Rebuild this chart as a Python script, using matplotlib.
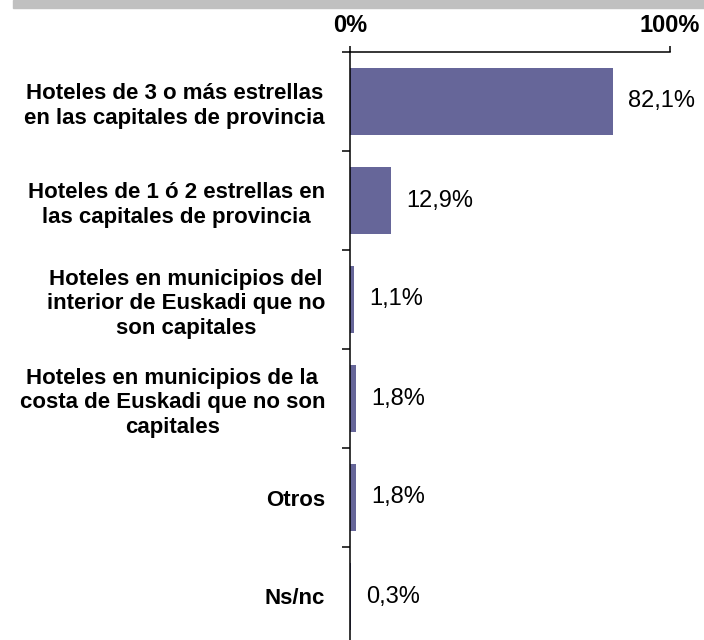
import matplotlib
matplotlib.use('Agg')
import matplotlib.pyplot as plt
from matplotlib.patches import Rectangle
from matplotlib.ticker import FixedLocator

plt.rcParams['font.family'] = ['Liberation Sans', 'DejaVu Sans']

# data
categories = [
    'Hoteles de 3 o más estrellas\nen las capitales de provincia',
    'Hoteles de 1 ó 2 estrellas en\nlas capitales de provincia',
    'Hoteles en municipios del\ninterior de Euskadi que no\nson capitales',
    'Hoteles en municipios de la\ncosta de Euskadi que no son\ncapitales',
    'Otros',
    'Ns/nc',
]
values = [82.1, 12.9, 1.1, 1.8, 1.8, 0.3]
xtick_vals = [0, 100]
xtick_labels = ['0%', '100%']

W, H = 704, 640
fig = plt.figure(figsize=(W / 100, H / 100), dpi=100)

# grey band at the top
fig.patches.append(Rectangle((13 / W, 1 - 8 / H), 1 - 13 / W, 8 / H,
                             transform=fig.transFigure, color='#c0c0c0', zorder=0))

ax = fig.add_axes([350 / W, -6 / H, 320 / W, 594 / H])
pos = list(range(len(categories)))
ax.barh(pos, values, height=0.67, color='#666699')

for p, v in zip(pos, values):
    ax.annotate(f'{v:.1f}'.replace('.', ',') + '%', (v, p),
                xytext=(11, 0), textcoords='offset points',
                va='center', ha='left', fontsize=17)

ax.set_xlim(0, 100)
ax.set_ylim(len(categories) - 0.5, -0.5)

ax.xaxis.tick_top()
ax.set_xticks(xtick_vals)
ax.set_xticklabels(xtick_labels, fontsize=17, fontweight='bold')
ax.tick_params(axis='x', direction='out', length=4.5, width=1.1, pad=6)

ax.set_yticks(pos)
ax.set_yticklabels(categories, fontsize=16, fontweight='bold', ha='right',
                   multialignment='center', linespacing=1.22)
ax.tick_params(axis='y', which='major', length=0, pad=18)
ax.yaxis.set_minor_locator(FixedLocator([i - 0.5 for i in range(len(categories) + 1)]))
ax.tick_params(axis='y', which='minor', direction='out', length=5.8, width=1.1)

for s in ['right', 'bottom']:
    ax.spines[s].set_visible(False)
for s in ['left', 'top']:
    ax.spines[s].set_linewidth(1.1)

fig.savefig('out.png', dpi=100)
